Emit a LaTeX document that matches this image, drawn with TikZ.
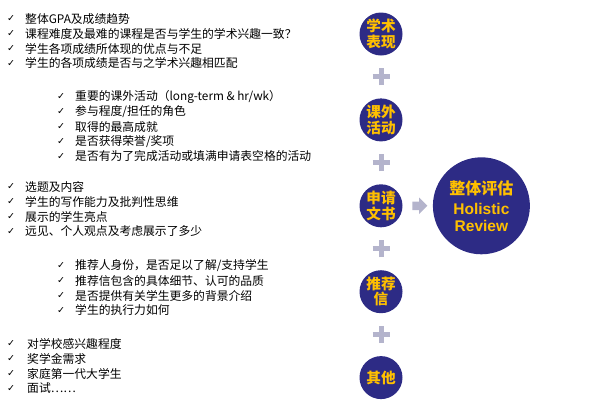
\documentclass[tikz,border=0pt]{standalone}
\usepackage{fontspec}
\setmainfont{Noto Sans CJK SC}
\newfontfamily\latinfont{Liberation Sans}
\newfontfamily\symbolfont{DejaVu Sans}
\usetikzlibrary{positioning,shapes.arrows}

\definecolor{navy}{HTML}{2D2B85}
\definecolor{gold}{HTML}{FFC000}
\definecolor{lavender}{HTML}{B4B4CC}

\tikzset{
  item/.style={anchor=west, inner sep=0pt, font=\fontsize{11.8}{14}\selectfont},
  tick/.style={inner sep=0pt, font=\symbolfont\fontsize{9.5}{9.5}\selectfont},
  topic/.style={circle, fill=navy, text=gold, minimum size=43pt, inner sep=0pt,
    align=center, font=\bfseries\fontsize{14.6}{15.4}\selectfont},
  plusbar/.style={lavender, line width=5pt},
  blockarrow/.style={single arrow, fill=lavender, inner sep=4pt, minimum height=15pt,
    single arrow head extend=4pt},
}

\begin{document}
\begin{tikzpicture}[x=1pt,y=-1pt]
    \useasboundingbox (0,0) rectangle (597,402);

    % criteria lists
    \foreach \t [count=\i from 0] in {整体GPA及成绩趋势, 课程难度及最难的课程是否与学生的学术兴趣一致？,
        学生各项成绩所体现的优点与不足, 学生的各项成绩是否与之学术兴趣相匹配}{
      \node[tick] (acad-tick-\i) at (11,19+14.8*\i) {✓};
      \node[item] (acad-item-\i) at (25,19+14.8*\i) {\t};
       }
    \foreach \t [count=\i from 0] in {重要的课外活动（long-term \& hr/wk）, {参与程度/担任的角色},
        取得的最高成就, {是否获得荣誉/奖项}, 是否有为了完成活动或填满申请表空格的活动}{
      \node[tick] (extra-tick-\i) at (61,97+14.8*\i) {✓};
      \node[item] (extra-item-\i) at (75,97+14.8*\i) {\t};
       }
    \foreach \t [count=\i from 0] in {选题及内容, 学生的写作能力及批判性思维,
        展示的学生亮点, 远见、个人观点及考虑展示了多少}{
      \node[tick] (essay-tick-\i) at (11,187+14.8*\i) {✓};
      \node[item] (essay-item-\i) at (25,187+14.8*\i) {\t};
       }
    \foreach \t [count=\i from 0] in {{推荐人身份，是否足以了解/支持学生}, 推荐信包含的具体细节、认可的品质,
        是否提供有关学生更多的背景介绍, 学生的执行力如何}{
      \node[tick] (rec-tick-\i) at (61,266+14.8*\i) {✓};
      \node[item] (rec-item-\i) at (75,266+14.8*\i) {\t};
       }
    \foreach \t [count=\i from 0] in {对学校感兴趣程度, 奖学金需求, 家庭第一代大学生, 面试……}{
      \node[tick] (other-tick-\i) at (11,344+14.8*\i) {✓};
      \node[item] (other-item-\i) at (27,344+14.8*\i) {\t};
       }

    % factor circles
    \node[topic] (acad) at (381,34) {学术\\表现};
    \node[topic, below = 42.5pt of acad] (extra) {课外\\活动};
    \node[topic, below = 42.5pt of extra] (essay) {申请\\文书};
    \node[topic, below = 42.5pt of essay] (rec) {推荐\\信};
    \node[topic, below = 42.5pt of rec] (other) {其他};
    \node[topic, minimum size=97pt, right = 30pt of essay,
      font=\bfseries\fontsize{16}{17}\selectfont] (holistic)
      {整体评估\\[3pt]{\latinfont\fontsize{15.5}{15.5}\selectfont Holistic}\\
       {\latinfont\fontsize{15.5}{15.5}\selectfont Review}};

    \foreach \a/\b in {acad/extra, extra/essay, essay/rec, rec/other}{
      \path (\a) -- coordinate (plus-\a) (\b);
      \draw[plusbar] ([xshift=-8.5pt]plus-\a) -- ([xshift=8.5pt]plus-\a);
      \draw[plusbar] ([yshift=-8.5pt]plus-\a) -- ([yshift=8.5pt]plus-\a);
       }
    \path (essay.east) -- node[blockarrow] (to-holistic) {} (holistic.west);

  \end{tikzpicture}
\end{document}
